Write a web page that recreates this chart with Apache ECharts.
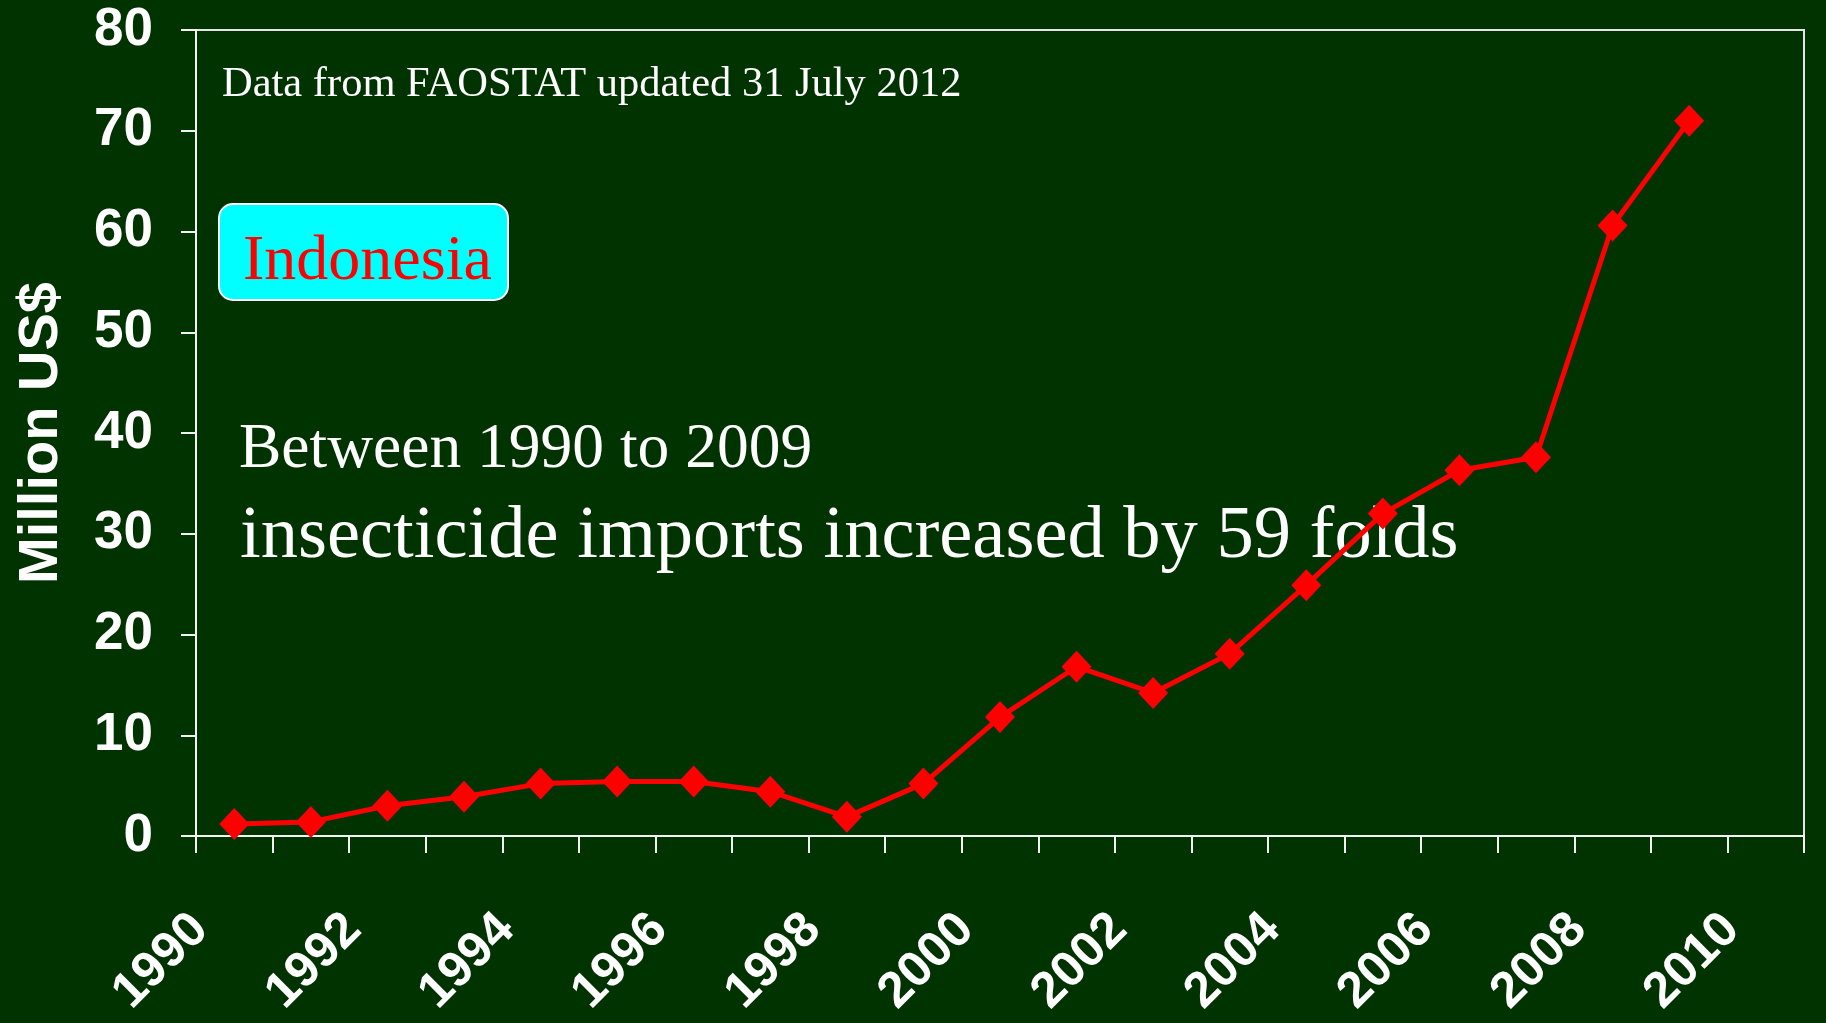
<!DOCTYPE html>
<html>
<head>
<meta charset="utf-8">
<title>Indonesia insecticide imports</title>
<script src="https://cdn.jsdelivr.net/npm/echarts@6/dist/echarts.min.js"></script>
<style>
  html, body { margin: 0; padding: 0; background: #003300; }
  #chart { width: 1826px; height: 1023px; }
</style>
</head>
<body>
<div id="chart"></div>
<script>
// Years on the category axis (2010 has no value yet)
const years = ['1990', '1991', '1992', '1993', '1994', '1995', '1996', '1997', '1998', '1999',
               '2000', '2001', '2002', '2003', '2004', '2005', '2006', '2007', '2008', '2009', '2010'];

// Insecticide imports, million US$
const imports = [1.2, 1.4, 3.0, 3.9, 5.2, 5.4, 5.4, 4.4, 1.9, 5.2,
                 11.8, 16.8, 14.2, 18.1, 24.9, 32.0, 36.3, 37.6, 60.6, 71.0, null];

// Value axis range
const yMin = 0;
const yMax = 80;
const yStep = 10;

const sourceNote = 'Data from FAOSTAT updated 31 July 2012';
const countryName = 'Indonesia';
const summaryLines = ['Between 1990 to 2009', 'insecticide imports increased by 59 folds'];

const chart = echarts.init(document.getElementById('chart'), null, { renderer: 'canvas' });

const sans = '"Liberation Sans", Arial, sans-serif';
const serif = '"Liberation Serif", "Times New Roman", serif';

chart.setOption({
  backgroundColor: '#003300',
  animation: false,
  grid: {
    left: 196, top: 30, right: 22, bottom: 187,
    show: true, borderColor: '#e6e6e6', borderWidth: 2, backgroundColor: 'transparent'
  },
  xAxis: {
    type: 'category',
    data: years,
    boundaryGap: true,
    axisLine: { lineStyle: { color: '#f2f2f2', width: 2 } },
    axisTick: { show: true, interval: 0, length: 17, lineStyle: { color: '#f2f2f2', width: 2 } },
    axisLabel: {
      interval: 1,
      rotate: 45,
      margin: 52,
      padding: [0, 48, 0, 0],
      color: '#ffffff',
      fontFamily: sans,
      fontWeight: 'bold',
      fontSize: 50
    },
    splitLine: { show: false }
  },
  yAxis: {
    type: 'value',
    min: yMin, max: yMax, interval: yStep,
    name: 'Million US$',
    nameLocation: 'middle',
    nameRotate: 90,
    nameGap: 126,
    nameTextStyle: { color: '#ffffff', fontFamily: sans, fontWeight: 'bold', fontSize: 56 },
    axisLine: { show: true, lineStyle: { color: '#f2f2f2', width: 2 } },
    axisTick: { show: true, length: 15, lineStyle: { color: '#f2f2f2', width: 2 } },
    axisLabel: { margin: 43, color: '#ffffff', fontFamily: sans, fontWeight: 'bold', fontSize: 53 },
    splitLine: { show: false }
  },
  series: [{
    type: 'line',
    data: imports,
    z: 5,
    symbol: 'diamond',
    symbolSize: [30, 32],
    showAllSymbol: true,
    lineStyle: { color: '#ff0000', width: 5 },
    itemStyle: { color: '#ff0000' },
    connectNulls: false
  }],
  graphic: [
    {
      type: 'text', z: 1, left: 222, top: 63,
      style: { text: sourceNote, fill: '#ffffff', font: '42.5px ' + serif }
    },
    {
      type: 'rect', z: 1,
      shape: { x: 219, y: 204, width: 289, height: 96, r: 14 },
      style: { fill: '#00ffff', stroke: '#ffffff', lineWidth: 2 }
    },
    {
      type: 'text', z: 2, x: 243, y: 262,
      style: { text: countryName, fill: '#ff0000', font: '64px ' + serif, textVerticalAlign: 'middle' }
    },
    {
      type: 'text', z: 1, x: 239, y: 450,
      style: { text: summaryLines[0], fill: '#ffffff', font: '63.5px ' + serif, textVerticalAlign: 'middle' }
    },
    {
      type: 'text', z: 1, x: 240, y: 537,
      style: { text: summaryLines[1], fill: '#ffffff', font: '74.5px ' + serif, textVerticalAlign: 'middle' }
    }
  ]
});
</script>
</body>
</html>
